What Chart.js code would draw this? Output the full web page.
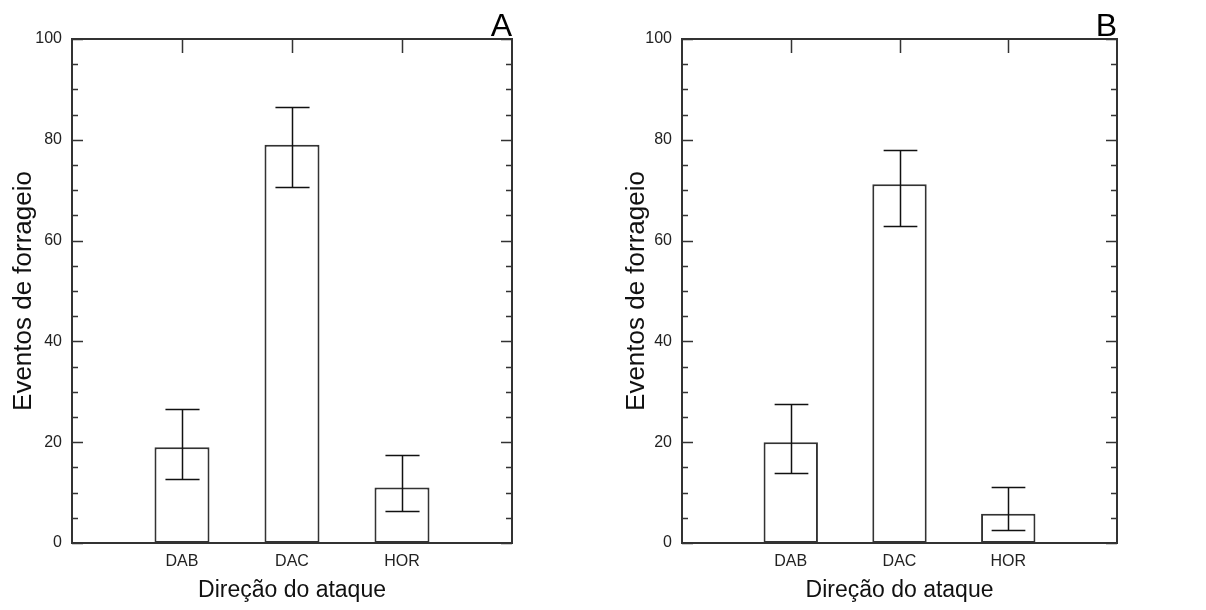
<!DOCTYPE html>
<html>
<head>
<meta charset="utf-8">
<script src="https://cdn.jsdelivr.net/npm/chart.js@4.4.0/dist/chart.umd.min.js"></script>
<style>
    body { margin: 0; background: #fff; width: 1206px; height: 610px; overflow: hidden; position: relative; }
    .panel { position: absolute; top: 0; width: 603px; height: 610px; }
</style>
</head>
<body>
<div class="panel" style="left:0"><canvas id="chartA" width="603" height="610"></canvas></div>
<div class="panel" style="left:603px"><canvas id="chartB" width="603" height="610"></canvas></div>
<script>
// Data
const categories = ['DAB', 'DAC', 'HOR'];
const valuesA = [19, 79, 11];
const lowA = [12.7, 70.6, 6.3];
const highA = [26.6, 86.5, 17.4];
const valuesB = [20, 71.2, 5.8];
const lowB = [13.8, 62.9, 2.6];
const highB = [27.6, 78, 11.2];
const yTicks = [0, 20, 40, 60, 80, 100];
const minorStep = 5;

const FONT = "Arial, 'Liberation Sans', sans-serif";
const LINE = '#333';

// frame around the plot, inward ticks on all four sides
const frameTicks = {
    id: 'frameTicks',
    afterDraw(chart) {
        const { ctx, chartArea: a, scales } = chart;
        const y = scales.y, x = scales.x;
        ctx.save();
        ctx.strokeStyle = LINE;
        ctx.lineWidth = 2;
        ctx.strokeRect(a.left, a.top, a.right - a.left, a.bottom - a.top);
        ctx.lineWidth = 1.5;
        ctx.beginPath();
        for (let v = y.min; v <= y.max; v += minorStep) {
            const py = Math.round(y.getPixelForValue(v)) + 0.5;
            const len = yTicks.includes(v) ? 11 : 6;
            ctx.moveTo(a.left, py); ctx.lineTo(a.left + len, py);
            ctx.moveTo(a.right, py); ctx.lineTo(a.right - len, py);
        }
        categories.forEach((c, i) => {
            const px = Math.round(x.getPixelForValue(i + 1)) + 0.5;
            ctx.moveTo(px, a.top); ctx.lineTo(px, a.top + 14);
        });
        ctx.stroke();
        ctx.restore();
    }
};

function makePanel(id, values, low, high, letter, padLeft, yWidth, padRight) {
    const errorBars = {
        id: 'errorBars',
        afterDatasetsDraw(chart) {
            const { ctx, scales } = chart;
            const meta = chart.getDatasetMeta(0);
            ctx.save();
            ctx.strokeStyle = '#111';
            ctx.lineWidth = 1.5;
            ctx.beginPath();
            categories.forEach((c, i) => {
                const bar = meta.data[i + 1];
                const cx = Math.round(bar.x) + 0.5;
                const half = bar.width * 0.31;
                const yHi = Math.round(scales.y.getPixelForValue(high[i])) + 0.5;
                const yLo = Math.round(scales.y.getPixelForValue(low[i])) + 0.5;
                ctx.moveTo(cx, yHi); ctx.lineTo(cx, yLo);
                ctx.moveTo(cx - half, yHi); ctx.lineTo(cx + half, yHi);
                ctx.moveTo(cx - half, yLo); ctx.lineTo(cx + half, yLo);
            });
            ctx.stroke();
            ctx.restore();
        }
    };

    const panelLabel = {
        id: 'panelLabel',
        afterDraw(chart) {
            const { ctx, chartArea: a } = chart;
            ctx.save();
            ctx.fillStyle = '#000';
            ctx.font = `32px ${FONT}`;
            ctx.textAlign = 'right';
            ctx.textBaseline = 'alphabetic';
            ctx.fillText(letter, a.right, a.top - 3);
            ctx.restore();
        }
    };

    return new Chart(document.getElementById(id), {
        type: 'bar',
        data: {
            labels: ['', ...categories, ''],
            datasets: [{
                data: [null, ...values, null],
                backgroundColor: '#fff',
                borderColor: LINE,
                borderWidth: 2,
                borderSkipped: false,
                categoryPercentage: 1,
                barPercentage: 0.5
            }]
        },
        options: {
            responsive: false,
            devicePixelRatio: 1,
            animation: false,
            layout: { padding: { left: padLeft, right: padRight, top: 39, bottom: 0 } },
            plugins: {
                legend: { display: false },
                tooltip: { enabled: false }
            },
            scales: {
                x: {
                    offset: false,
                    grid: { display: false, drawTicks: false },
                    border: { display: false },
                    ticks: {
                        padding: 9,
                        color: '#222',
                        autoSkip: false,
                        maxRotation: 0,
                        font: { family: FONT, size: 16 }
                    },
                    title: {
                        display: true,
                        text: 'Direção do ataque',
                        color: '#111',
                        font: { family: FONT, size: 23 },
                        padding: { top: 0, bottom: 6 }
                    },
                    afterFit: (s) => { s.height = 67; }
                },
                y: {
                    min: 0,
                    max: 100,
                    afterBuildTicks: (s) => { s.ticks = yTicks.map(v => ({ value: v })); },
                    grid: { display: false, drawTicks: false },
                    border: { display: false },
                    ticks: {
                        padding: 10,
                        color: '#222',
                        font: { family: FONT, size: 16 }
                    },
                    title: {
                        display: true,
                        text: 'Eventos de forrageio',
                        color: '#111',
                        font: { family: FONT, size: 26 },
                        padding: { top: 8, bottom: 0 }
                    },
                    afterFit: (s) => { s.width = yWidth; }
                }
            }
        },
        plugins: [frameTicks, errorBars, panelLabel]
    });
}

makePanel('chartA', valuesA, lowA, highA, 'A', 0, 72, 91);
makePanel('chartB', valuesB, lowB, highB, 'B', 10, 69, 89);
</script>
</body>
</html>
